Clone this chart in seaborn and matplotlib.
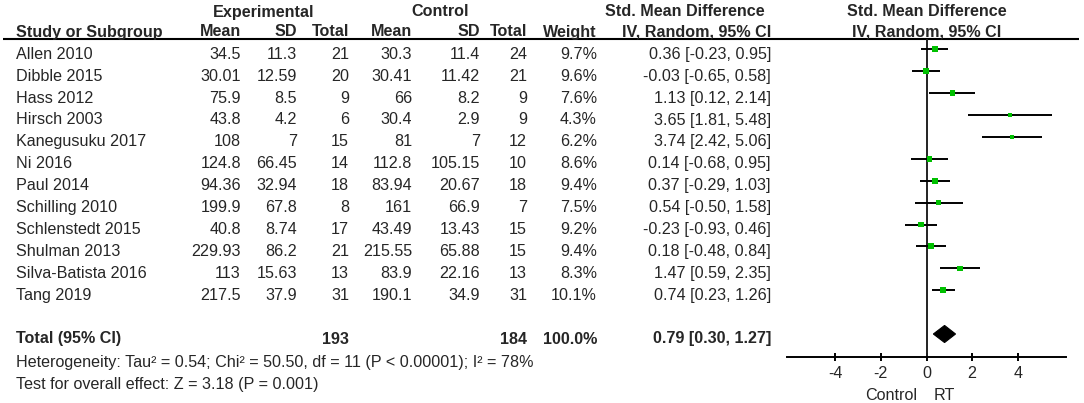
import matplotlib
matplotlib.use("Agg")
import matplotlib.pyplot as plt
import seaborn as sns
import pandas as pd
from matplotlib.patches import Polygon

# ---------------- data ----------------
studies = ["Allen 2010", "Dibble 2015", "Hass 2012", "Hirsch 2003", "Kanegusuku 2017",
           "Ni 2016", "Paul 2014", "Schilling 2010", "Schlenstedt 2015", "Shulman 2013",
           "Silva-Batista 2016", "Tang 2019"]
exp_mean = ["34.5", "30.01", "75.9", "43.8", "108", "124.8", "94.36", "199.9", "40.8",
            "229.93", "113", "217.5"]
exp_sd = ["11.3", "12.59", "8.5", "4.2", "7", "66.45", "32.94", "67.8", "8.74", "86.2",
          "15.63", "37.9"]
exp_n = [21, 20, 9, 6, 15, 14, 18, 8, 17, 21, 13, 31]
ctl_mean = ["30.3", "30.41", "66", "30.4", "81", "112.8", "83.94", "161", "43.49",
            "215.55", "83.9", "190.1"]
ctl_sd = ["11.4", "11.42", "8.2", "2.9", "7", "105.15", "20.67", "66.9", "13.43",
          "65.88", "22.16", "34.9"]
ctl_n = [24, 21, 9, 9, 12, 10, 18, 7, 15, 15, 13, 31]
weight = [9.7, 9.6, 7.6, 4.3, 6.2, 8.6, 9.4, 7.5, 9.2, 9.4, 8.3, 10.1]
smd = [0.36, -0.03, 1.13, 3.65, 3.74, 0.14, 0.37, 0.54, -0.23, 0.18, 1.47, 0.74]
ci_lo = [-0.23, -0.65, 0.12, 1.81, 2.42, -0.68, -0.29, -0.50, -0.93, -0.48, 0.59, 0.23]
ci_hi = [0.95, 0.58, 2.14, 5.48, 5.06, 0.95, 1.03, 1.58, 0.46, 0.84, 2.35, 1.26]

total_exp_n = 193
total_ctl_n = 184
total_weight = 100.0
pooled = 0.79
pooled_lo = 0.30
pooled_hi = 1.27
heterogeneity = "Heterogeneity: Tau² = 0.54; Chi² = 50.50, df = 11 (P < 0.00001); I² = 78%"
overall = "Test for overall effect: Z = 3.18 (P = 0.001)"
xticks = [-4, -2, 0, 2, 4]
favours_left = "Control"
favours_right = "RT"

df = pd.DataFrame({"study": studies, "smd": smd, "lo": ci_lo, "hi": ci_hi,
                   "weight": weight, "row": list(range(len(studies)))})

# ---------------- style ----------------
sns.set_theme(style="white")
plt.rcParams["font.family"] = ["Liberation Sans", "DejaVu Sans"]
FS = 11.6
GREEN = "#00c000"

W, H = 1084, 403
fig = plt.figure(figsize=(W / 100, H / 100), dpi=100)

# background axes in pixel coordinates for the table text
bg = fig.add_axes([0, 0, 1, 1])
bg.set_xlim(0, W)
bg.set_ylim(H, 0)
bg.axis("off")

ROW0 = 49.3
DY = 21.9
TOFF = 5.0
TOTAL_ROW = 13


def rowy(i):
    return ROW0 + DY * i + TOFF


# header
hdr_y1 = 12
hdr_y2 = 32
bg.text(264, hdr_y1, "Experimental", ha="center", va="center", fontsize=FS, fontweight="bold")
bg.text(440, hdr_y1, "Control", ha="center", va="center", fontsize=FS, fontweight="bold")
bg.text(685, hdr_y1, "Std. Mean Difference", ha="center", va="center", fontsize=FS, fontweight="bold")
bg.text(927, hdr_y1, "Std. Mean Difference", ha="center", va="center", fontsize=FS, fontweight="bold")

cols_x = {"mean_e": 241, "sd_e": 297, "n_e": 349, "mean_c": 412, "sd_c": 480,
          "n_c": 527, "w": 597, "ci": 771}
bg.text(16.5, hdr_y2, "Study or Subgroup", ha="left", va="center", fontsize=FS, fontweight="bold")
for key, lab in [("mean_e", "Mean"), ("sd_e", "SD"), ("n_e", "Total"), ("mean_c", "Mean"),
                 ("sd_c", "SD"), ("n_c", "Total"), ("w", "Weight"), ("ci", "IV, Random, 95% CI")]:
    bg.text(cols_x[key], hdr_y2, lab, ha="right", va="center", fontsize=FS, fontweight="bold")
bg.text(927, hdr_y2, "IV, Random, 95% CI", ha="center", va="center", fontsize=FS, fontweight="bold")

bg.plot([3, 1079], [38.5, 38.5], color="black", lw=1.5, solid_capstyle="butt")

for i, s in enumerate(studies):
    y = rowy(i)
    bg.text(16.5, y, s, ha="left", va="center", fontsize=FS)
    vals = [("mean_e", exp_mean[i]), ("sd_e", exp_sd[i]), ("n_e", str(exp_n[i])),
            ("mean_c", ctl_mean[i]), ("sd_c", ctl_sd[i]), ("n_c", str(ctl_n[i])),
            ("w", f"{weight[i]:.1f}%"),
            ("ci", f"{smd[i]:.2f} [{ci_lo[i]:.2f}, {ci_hi[i]:.2f}]")]
    for key, v in vals:
        bg.text(cols_x[key], y, v, ha="right", va="center", fontsize=FS)

yt = rowy(TOTAL_ROW)
bg.text(16.5, yt, "Total (95% CI)", ha="left", va="center", fontsize=FS, fontweight="bold")
bg.text(cols_x["n_e"], yt, str(total_exp_n), ha="right", va="center", fontsize=FS, fontweight="bold")
bg.text(cols_x["n_c"], yt, str(total_ctl_n), ha="right", va="center", fontsize=FS, fontweight="bold")
bg.text(cols_x["w"], yt, f"{total_weight:.1f}%", ha="right", va="center", fontsize=FS, fontweight="bold")
bg.text(cols_x["ci"], yt, f"{pooled:.2f} [{pooled_lo:.2f}, {pooled_hi:.2f}]", ha="right",
        va="center", fontsize=FS, fontweight="bold")
bg.text(16.5, 362, heterogeneity, ha="left", va="center", fontsize=FS)
bg.text(16.5, 385, overall, ha="left", va="center", fontsize=FS)

# ---------------- forest axes ----------------
px_left, px_right = 787, 1066
px_top, px_bot = 38.5, 356.7
ax = fig.add_axes([px_left / W, 1 - px_bot / H, (px_right - px_left) / W, (px_bot - px_top) / H])
ax.set_facecolor("none")
ax.set_xlim(-6.1, 6.1)
ax.set_ylim((px_bot - ROW0) / DY, (px_top - ROW0) / DY)

ax.axvline(0, color="#222222", lw=1.4, zorder=1)
ax.hlines(df["row"], df["lo"], df["hi"], color="black", lw=1.4, zorder=2)
sns.scatterplot(data=df, x="smd", y="row", size="weight", sizes=(8, 19), marker="s",
                color=GREEN, edgecolor="none", linewidth=0, legend=False, ax=ax, zorder=3)

dh = 0.39
diamond = Polygon([[pooled_lo, TOTAL_ROW], [pooled, TOTAL_ROW - dh], [pooled_hi, TOTAL_ROW],
                   [pooled, TOTAL_ROW + dh]], closed=True, facecolor="black", edgecolor="black",
                  lw=0.8, zorder=3)
ax.add_patch(diamond)

for sp in ["top", "right", "left"]:
    ax.spines[sp].set_visible(False)
ax.spines["bottom"].set_color("black")
ax.spines["bottom"].set_linewidth(1.4)
ax.set_yticks([])
ax.set_xticks(xticks)
ax.set_xticklabels([str(t) for t in xticks], fontsize=FS)
ax.tick_params(axis="x", direction="inout", length=6, width=1.4, color="black", pad=4,
               bottom=True)
ax.set_xlabel("")
ax.set_ylabel("")

bg.text(917, 395, favours_left, ha="right", va="center", fontsize=FS)
bg.text(934, 395, favours_right, ha="left", va="center", fontsize=FS)

fig.savefig("out.png", dpi=100)
